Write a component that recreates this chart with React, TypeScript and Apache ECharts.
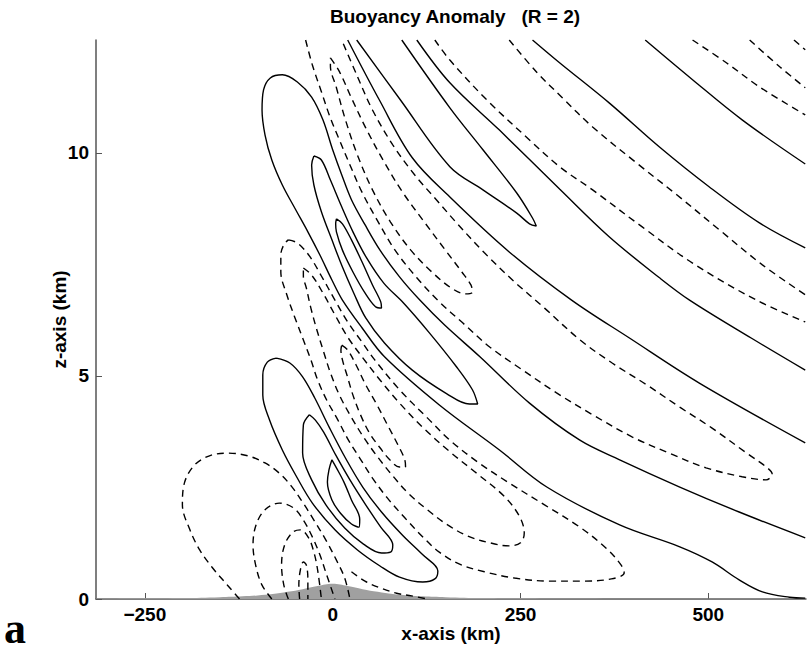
import React, { useEffect, useRef } from "react";
import * as echarts from "echarts";

// ---- axis ticks ----
const X_TICKS = [-250, 0, 250, 500];
const Z_TICKS = [0, 5, 10];

// ---- terrain (km) ----
const terrainX = [-315, -250, -200, -150, -120, -100, -80, -60, -40, -20, 0, 20, 40, 60, 80, 100, 120, 150, 200, 250, 300, 400, 500, 630];
const terrainZ = [0.01, 0.015, 0.02, 0.04, 0.06, 0.08, 0.11, 0.16, 0.22, 0.29, 0.34, 0.29, 0.22, 0.16, 0.11, 0.08, 0.06, 0.04, 0.02, 0.015, 0.01, 0.006, 0.004, 0.003];

// ---- positive contours (solid), [x km, z km] ----
const posB = [[416, 12.53], [479, 11.64], [545, 10.74], [629, 9.75]];
const posA = [[266, 12.53], [302, 12.02], [368, 11.12], [435, 10.13], [501, 9.24], [568, 8.43], [629, 7.87]];
const posC = [[112, 12.53], [156, 11.57], [222, 10.51], [302, 9.19], [368, 8.12], [435, 7.2], [475, 6.7], [557, 5.85], [629, 5.13]];
const posE = [[92, 12.53], [156, 11.01], [200, 10.07], [245, 9.1], [266, 8.54], [271, 8.36], [262, 8.41], [245, 8.65], [200, 9.17], [156, 9.69], [90, 11.19], [32, 12.53]];
const posD = [[20, 12.53], [62, 11.19], [106, 9.89], [156, 9.01], [235, 7.78], [318, 6.7], [395, 5.85], [488, 4.84], [629, 3.5]];
const posU1 = [[629, 1.37], [541, 1.95], [462, 2.51], [382, 3.12], [329, 3.56], [262, 4.39], [196, 5.43], [149, 6.14], [116, 6.7], [89, 7.22], [63, 7.82], [43, 8.39], [25, 8.95], [12, 9.51], [0, 10.07], [-13, 10.74], [-28, 11.25], [-47, 11.59], [-67, 11.75], [-83, 11.68], [-92, 11.41], [-94, 10.96], [-90, 10.4], [-81, 9.84], [-67, 9.28], [-49, 8.72], [-33, 8.23], [-17, 7.71], [-1, 7.15], [13, 6.7], [39, 6.08], [69, 5.43], [142, 4.35], [222, 3.34], [285, 2.51], [382, 1.66], [462, 1.17], [505, 0.83], [541, 0.43], [572, 0.16], [608, 0.04], [629, 0.02]];
const posU2 = [[-25, 9.93], [-15, 9.84], [-3, 9.39], [11, 8.83], [27, 8.23], [45, 7.65], [68, 7.08], [94, 6.64], [129, 5.96], [165, 5.2], [186, 4.69], [193, 4.37], [182, 4.37], [152, 4.6], [106, 5.13], [69, 5.74], [44, 6.3], [28, 6.86], [13, 7.44], [-1, 8.05], [-15, 8.68], [-25, 9.28], [-28, 9.73], [-25, 9.93]];
const posU3 = [[5, 8.52], [13, 8.41], [25, 8.05], [39, 7.56], [53, 7.04], [64, 6.66], [65, 6.52], [57, 6.55], [43, 6.86], [27, 7.33], [13, 7.82], [5, 8.23], [4, 8.41], [5, 8.52]];
const posL1 = [[-75, 5.4], [-87, 5.31], [-93, 5.02], [-93, 4.57], [-84, 4.01], [-67, 3.34], [-48, 2.74], [-27, 2.15], [3, 1.55], [33, 1.1], [63, 0.74], [89, 0.49], [120, 0.38], [136, 0.45], [140, 0.63], [120, 0.99], [93, 1.43], [65, 1.95], [40, 2.51], [17, 3.16], [-4, 3.83], [-24, 4.51], [-40, 4.98], [-57, 5.29], [-75, 5.4]];
const posL2 = [[-31, 4.13], [-39, 3.9], [-40, 3.27], [-28, 2.67], [-9, 2.11], [16, 1.59], [41, 1.23], [65, 1.03], [77, 1.05], [80, 1.21], [64, 1.61], [44, 2.11], [23, 2.67], [4, 3.23], [-12, 3.74], [-23, 4.01], [-31, 4.13]];
const posL3 = [[-1, 3.12], [-5, 2.89], [-7, 2.62], [-1, 2.22], [11, 1.91], [25, 1.68], [35, 1.61], [36, 1.79], [25, 2.22], [15, 2.62], [5, 2.94], [-1, 3.12]];

// ---- negative contours (dashed) ----
const negR1 = [[479, 12.53], [524, 12.02], [568, 11.48], [629, 10.85]];
const negR2 = [[555, 12.53], [595, 11.93], [629, 11.46]];
const negR3 = [[614, 12.53], [629, 12.31]];
const negN5 = [[235, 12.53], [271, 11.82], [306, 11.23], [346, 10.58], [404, 9.78], [458, 9.06], [515, 8.27], [572, 7.49], [629, 6.82]];
const negN4 = [[136, 12.53], [156, 12.08], [205, 11.19], [262, 10.29], [302, 9.69], [346, 9.17], [412, 8.34], [479, 7.53], [564, 6.7], [629, 6.21]];
const negN13 = [[-36, 12.53], [-27, 11.97], [-15, 11.37], [-3, 10.78], [9, 10.29], [23, 9.73], [39, 9.12], [59, 8.5], [83, 7.82], [112, 7.2], [142, 6.66], [173, 6.19], [209, 5.65], [253, 5.13], [298, 4.62], [346, 4.13], [399, 3.63], [448, 3.27], [497, 2.94], [545, 2.74], [577, 2.67], [585, 2.8], [577, 2.96], [551, 3.27], [505, 3.83], [462, 4.3], [418, 4.8], [372, 5.29], [329, 5.81], [282, 6.52], [242, 7.11], [202, 7.76], [165, 8.43], [138, 8.95], [109, 9.51], [80, 10.18], [53, 10.96], [32, 11.75], [12, 12.53]];
const negN2 = [[-3, 12.13], [9, 11.82], [25, 11.23], [44, 10.56], [67, 9.84], [93, 9.12], [122, 8.45], [150, 7.82], [172, 7.33], [184, 7.04], [186, 6.88], [177, 6.84], [158, 6.97], [132, 7.33], [104, 7.82], [77, 8.45], [53, 9.17], [33, 9.95], [17, 10.74], [5, 11.46], [-3, 11.95], [-3, 12.13]];
const negN6 = [[-59, 8.05], [-47, 7.98], [-31, 7.69], [-15, 7.24], [3, 6.7], [20, 6.21], [39, 5.76], [56, 5.36], [89, 4.69], [126, 4.06], [156, 3.56], [193, 3.07], [235, 2.6], [282, 2.11], [329, 1.61], [364, 1.14], [384, 0.76], [388, 0.58], [371, 0.45], [335, 0.4], [289, 0.4], [242, 0.47], [202, 0.61], [169, 0.78], [142, 1.05], [120, 1.39], [96, 1.82], [73, 2.26], [53, 2.71], [36, 3.16], [21, 3.56], [7, 4.01], [-8, 4.46], [-20, 4.91], [-29, 5.36], [-40, 5.85], [-51, 6.34], [-61, 6.82], [-69, 7.33], [-69, 7.71], [-65, 7.94], [-59, 8.05]];
const negT1 = [[-39, 7.42], [-28, 7.26], [-13, 6.86], [3, 6.37], [20, 5.87], [39, 5.43], [63, 4.91], [89, 4.39], [121, 3.83], [156, 3.3], [193, 2.8], [229, 2.29], [249, 1.84], [255, 1.48], [250, 1.26], [235, 1.19], [209, 1.26], [180, 1.41], [153, 1.66], [126, 2.0], [100, 2.38], [79, 2.78], [60, 3.18], [41, 3.63], [24, 4.1], [9, 4.57], [-3, 5.07], [-12, 5.54], [-21, 6.03], [-29, 6.52], [-35, 6.97], [-39, 7.24], [-39, 7.42]];
const negT0 = [[12, 5.69], [20, 5.58], [31, 5.25], [44, 4.8], [59, 4.35], [73, 3.9], [87, 3.45], [96, 3.12], [97, 2.96], [89, 2.96], [76, 3.12], [63, 3.39], [49, 3.72], [37, 4.13], [27, 4.57], [19, 5.02], [13, 5.36], [11, 5.58], [12, 5.69]];
const negN7a = [[-124, 0], [-140, 0.31], [-160, 0.7], [-177, 1.1], [-190, 1.55], [-200, 2.11], [-197, 2.62], [-184, 3.0], [-164, 3.21], [-140, 3.27], [-113, 3.21], [-90, 3.05], [-71, 2.82], [-55, 2.53], [-40, 2.17], [-25, 1.77], [-9, 1.32], [5, 0.87], [16, 0.47], [23, 0]];
const negN7b = [[-81, 0], [-94, 0.31], [-102, 0.72], [-106, 1.21], [-102, 1.66], [-90, 2.0], [-71, 2.15], [-52, 2.04], [-39, 1.77], [-27, 1.39], [-17, 0.99], [-8, 0.54], [3, 0]];
const negN7c = [[-59, 0], [-65, 0.31], [-68, 0.76], [-64, 1.21], [-53, 1.5], [-43, 1.55], [-32, 1.37], [-25, 1.05], [-20, 0.65], [-15, 0]];
const negN7d = [[-44, 0], [-45, 0.31], [-43, 0.65], [-39, 0.83], [-35, 0.76], [-33, 0.43], [-33, 0]];
const negG1 = [[25, 0.61], [43, 0.4], [63, 0.25], [85, 0.13], [105, 0.07], [126, 0]];

const FONT = '"Liberation Sans", Arial, Helvetica, sans-serif';

export default function App() {
  const ref = useRef<HTMLDivElement>(null);

  useEffect(() => {
    document.body.style.margin = "0";
    document.body.style.overflow = "hidden";
    const chart = echarts.init(ref.current as HTMLDivElement, null, { renderer: "svg" });

    const solids = [posB, posA, posC, posE, posD, posU1, posU2, posU3, posL1, posL2, posL3];
    const dashes = [negR1, negR2, negR3, negN5, negN4, negN13, negN2, negN6, negT1, negT0, negN7a, negN7b, negN7c, negN7d, negG1];

    const series: any[] = [
      {
        type: "line",
        name: "terrain",
        data: terrainX.map((x, i) => [x, terrainZ[i]]),
        symbol: "none",
        smooth: 0.4,
        lineStyle: { width: 0, color: "#a0a0a0" },
        areaStyle: { color: "#a0a0a0", opacity: 1 },
        silent: true,
        z: 1,
      },
    ];
    solids.forEach((d, i) =>
      series.push({
        type: "line",
        name: "pos" + i,
        data: d,
        symbol: "none",
        smooth: 0.35,
        clip: true,
        silent: true,
        lineStyle: { color: "#000", width: 1.4, type: "solid" },
        z: 3,
      })
    );
    dashes.forEach((d, i) =>
      series.push({
        type: "line",
        name: "neg" + i,
        data: d,
        symbol: "none",
        smooth: 0.35,
        clip: true,
        silent: true,
        lineStyle: { color: "#000", width: 1.4, type: [7, 5] },
        z: 3,
      })
    );

    chart.setOption({
      animation: false,
      backgroundColor: "#fff",
      title: {
        text: "Buoyancy Anomaly   (R = 2)",
        left: 330,
        top: 7,
        padding: 0,
        textStyle: { fontFamily: FONT, fontWeight: "bold", fontSize: 19, color: "#000" },
      },
      grid: { left: 96, right: 3, top: 40, bottom: 56, containLabel: false },
      xAxis: {
        type: "value",
        min: -315,
        max: 630,
        name: "x-axis (km)",
        nameLocation: "middle",
        nameGap: 25,
        nameMoveOverlap: false,
        nameTextStyle: { fontFamily: FONT, fontWeight: "bold", fontSize: 19, color: "#000" },
        axisLine: { show: true, onZero: false, lineStyle: { color: "#555", width: 1.5 } },
        axisTick: { show: true, inside: true, length: 6, customValues: X_TICKS, lineStyle: { color: "#555" } },
        axisLabel: {
          customValues: X_TICKS,
          margin: 6,
          fontFamily: FONT,
          fontWeight: "bold",
          fontSize: 19,
          color: "#000",
          formatter: (v: number) => String(v).replace("-", "\u2212"),
        },
        splitLine: { show: false },
      },
      yAxis: {
        type: "value",
        min: 0,
        max: 12.53,
        name: "z-axis (km)",
        nameLocation: "middle",
        nameGap: 27,
        nameMoveOverlap: false,
        nameRotate: 90,
        nameTextStyle: { fontFamily: FONT, fontWeight: "bold", fontSize: 19, color: "#000" },
        axisLine: { show: true, onZero: false, lineStyle: { color: "#555", width: 1.5 } },
        axisTick: { show: true, inside: true, length: 6, customValues: Z_TICKS, lineStyle: { color: "#555" } },
        axisLabel: {
          customValues: Z_TICKS,
          margin: 7,
          fontFamily: FONT,
          fontWeight: "bold",
          fontSize: 19,
          color: "#000",
        },
        splitLine: { show: false },
      },
      graphic: [
        {
          type: "text",
          left: 4,
          top: 606,
          style: { text: "a", font: 'bold 44px "Liberation Serif", "DejaVu Serif", serif', fill: "#000" },
        },
      ],
      series,
    });

    return () => chart.dispose();
  }, []);

  return <div ref={ref} style={{ width: 809, height: 655 }} />;
}
